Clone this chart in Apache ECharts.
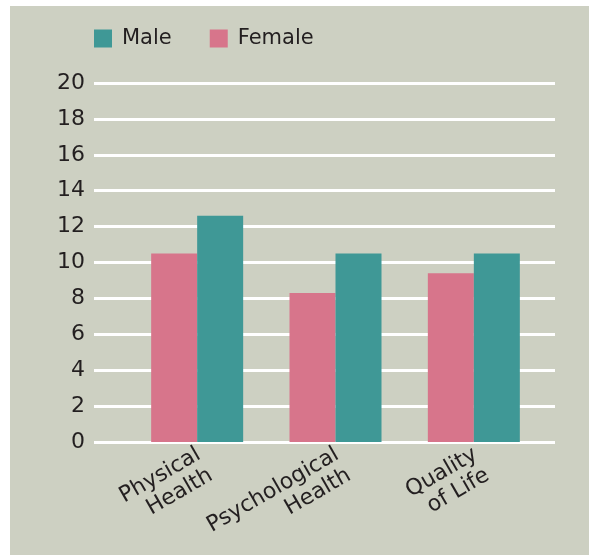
<!DOCTYPE html>
<html>
<head>
<meta charset="utf-8">
<script src="https://cdn.jsdelivr.net/npm/echarts@6/dist/echarts.min.js"></script>
<style>
  html, body { margin: 0; padding: 0; background: #fff; }
  #chart { width: 589px; height: 555px; }
</style>
</head>
<body>
<div id="chart"></div>
<script>
  // values
  var categories = ['Physical\nHealth', 'Psychological\nHealth', 'Quality\nof Life'];
  var femaleValues = [10.5, 8.3, 9.4];
  var maleValues = [12.6, 10.5, 10.5];
  var legendNames = ['Male', 'Female'];

  var textColor = '#231f20';
  var fontFam = 'DejaVu Sans';

  var chart = echarts.init(document.getElementById('chart'));
  var option = {
    animation: false,
    textStyle: { fontFamily: fontFam },
    graphic: [{
      type: 'rect', z: -10, silent: true,
      shape: { x: 10, y: 6, width: 579, height: 549 },
      style: { fill: '#cdd0c2' }
    }],
    legend: {
      data: legendNames,
      left: 89, top: 23,
      itemWidth: 18, itemHeight: 18,
      itemGap: 38,
      icon: 'rect',
      textStyle: { color: textColor, fontSize: 21, fontFamily: fontFam, padding: [0, 0, 0, 5] }
    },
    grid: [
      { left: 94, right: 34, top: 83, bottom: 113, outerBoundsMode: 'none', containLabel: false },
      { left: 128, right: 46, top: 83, bottom: 113, outerBoundsMode: 'none', containLabel: false }
    ],
    xAxis: [
      { gridIndex: 0, type: 'value', show: false, min: 0, max: 1 },
      {
        gridIndex: 1, type: 'category', data: categories,
        axisLine: { show: false }, axisTick: { show: false },
        axisLabel: {
          color: textColor, fontSize: 22, fontFamily: fontFam, rotate: 30,
          margin: 26, interval: 0, lineHeight: 24, padding: [0, -9, 0, 0]
        }
      }
    ],
    yAxis: [
      {
        gridIndex: 0, type: 'value', min: 0, max: 20, interval: 2,
        axisLine: { show: false }, axisTick: { show: false },
        axisLabel: { color: textColor, fontSize: 22, fontFamily: fontFam, margin: 9 },
        splitLine: { show: true, lineStyle: { color: '#ffffff', width: 3 } }
      },
      { gridIndex: 1, type: 'value', min: 0, max: 20, show: false, splitLine: { show: false } }
    ],
    series: [
      {
        name: 'Female', type: 'bar', xAxisIndex: 1, yAxisIndex: 1,
        data: femaleValues, barWidth: 46, barGap: '0%',
        itemStyle: { color: '#d7758b' }
      },
      {
        name: 'Male', type: 'bar', xAxisIndex: 1, yAxisIndex: 1,
        data: maleValues, barWidth: 46, barGap: '0%',
        itemStyle: { color: '#3f9896' }
      }
    ]
  };
  chart.setOption(option);
</script>
</body>
</html>
